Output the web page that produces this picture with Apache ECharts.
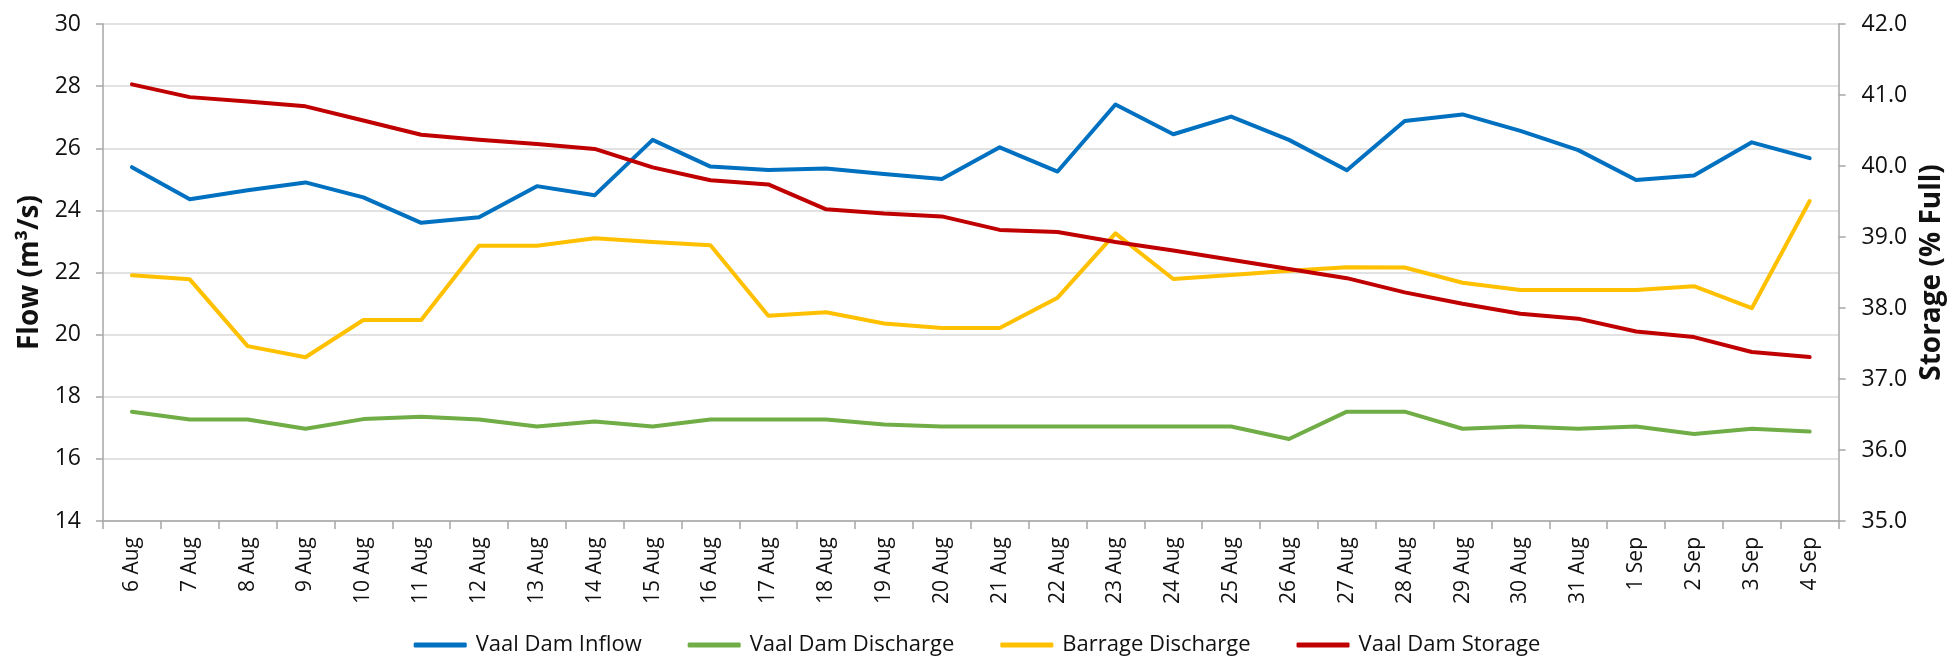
<!DOCTYPE html>
<html>
<head>
<meta charset="utf-8">
<script src="https://cdn.jsdelivr.net/npm/echarts@6/dist/echarts.min.js"></script>
<style>
html,body{margin:0;padding:0;background:#fff;}
#chart{width:1954px;height:658px;}
</style>
</head>
<body>
<div id="chart"></div>
<script>
const categories = ['6 Aug','7 Aug','8 Aug','9 Aug','10 Aug','11 Aug','12 Aug','13 Aug','14 Aug','15 Aug','16 Aug','17 Aug','18 Aug','19 Aug','20 Aug','21 Aug','22 Aug','23 Aug','24 Aug','25 Aug','26 Aug','27 Aug','28 Aug','29 Aug','30 Aug','31 Aug','1 Sep','2 Sep','3 Sep','4 Sep'];
const inflow = [25.39,24.36,24.65,24.90,24.42,23.60,23.78,24.78,24.49,26.27,25.41,25.30,25.35,25.17,25.01,26.03,25.25,27.41,26.45,27.02,26.27,25.29,26.88,27.09,26.56,25.94,24.98,25.12,26.19,25.68];
const damDischarge = [17.52,17.27,17.27,16.97,17.28,17.36,17.27,17.04,17.20,17.04,17.27,17.27,17.27,17.11,17.04,17.04,17.04,17.04,17.04,17.04,16.64,17.52,17.52,16.97,17.04,16.97,17.04,16.80,16.97,16.88];
const barrageDischarge = [21.91,21.78,19.63,19.27,20.47,20.47,22.86,22.86,23.10,22.98,22.88,20.61,20.72,20.36,20.21,20.21,21.19,23.26,21.79,21.92,22.06,22.17,22.16,21.67,21.44,21.44,21.44,21.56,20.85,24.30];
const storage = [41.15,40.97,40.91,40.84,40.64,40.44,40.37,40.31,40.24,39.98,39.80,39.74,39.39,39.33,39.29,39.10,39.07,38.93,38.81,38.68,38.55,38.42,38.22,38.06,37.92,37.85,37.67,37.59,37.38,37.31];
const seriesNames = ['Vaal Dam Inflow','Vaal Dam Discharge','Barrage Discharge','Vaal Dam Storage'];
const colors = ['#0070c0','#70ad47','#ffc000','#c00000'];

const FONT = 'Open Sans';
const chart = echarts.init(document.getElementById('chart'), null, {renderer:'canvas'});
function lineSeries(name, data, color, yIndex){
  return {name, type:'line', data, yAxisIndex:yIndex, symbol:'none', smooth:false,
    lineStyle:{color, width:4, cap:'round', join:'round'}, itemStyle:{color}};
}
chart.setOption({
  animation:false,
  backgroundColor:'#ffffff',
  color: colors,
  grid:{left:103, right:115, top:24, bottom:137, containLabel:false},
  legend:{
    top:629, left:'center', itemWidth:53, itemHeight:5, itemGap:46, icon:'roundRect',
    textStyle:{fontFamily:FONT, fontSize:22, color:'#111', padding:[0,0,0,4]},
    data: seriesNames
  },
  xAxis:{
    type:'category', data:categories, boundaryGap:true,
    axisLine:{lineStyle:{color:'#a6a6a6', width:1.5}},
    axisTick:{show:true, length:8, alignWithLabel:false, lineStyle:{color:'#a6a6a6', width:1.5}},
    axisLabel:{rotate:90, interval:0, margin:16, fontFamily:FONT, fontSize:21, color:'#111'},
    splitLine:{show:false}
  },
  yAxis:[
    {type:'value', min:14, max:30, interval:2, position:'left',
     name:'Flow (m³/s)', nameLocation:'middle', nameRotate:90, nameGap:57,
     nameTextStyle:{fontFamily:FONT, fontWeight:'bold', fontSize:28, color:'#111'},
     axisLine:{show:true, lineStyle:{color:'#a6a6a6', width:1.5}},
     axisTick:{show:true, length:7, lineStyle:{color:'#a6a6a6', width:1.5}},
     axisLabel:{margin:22, fontFamily:FONT, fontSize:23, color:'#111'},
     splitLine:{show:true, lineStyle:{color:'#d9d9d9', width:1.5}}},
    {type:'value', min:35, max:42, interval:1, position:'right',
     name:'Storage (% Full)', nameLocation:'middle', nameRotate:90, nameGap:79,
     nameTextStyle:{fontFamily:FONT, fontWeight:'bold', fontSize:28, color:'#111'},
     axisLine:{show:true, lineStyle:{color:'#a6a6a6', width:1.5}},
     axisTick:{show:true, length:7, lineStyle:{color:'#a6a6a6', width:1.5}},
     axisLabel:{margin:23, fontFamily:FONT, fontSize:23, color:'#111', formatter:v=>v.toFixed(1)},
     splitLine:{show:false}}
  ],
  series:[
    lineSeries(seriesNames[0], inflow, colors[0], 0),
    lineSeries(seriesNames[1], damDischarge, colors[1], 0),
    lineSeries(seriesNames[2], barrageDischarge, colors[2], 0),
    lineSeries(seriesNames[3], storage, colors[3], 1)
  ]
});
</script>
</body>
</html>
